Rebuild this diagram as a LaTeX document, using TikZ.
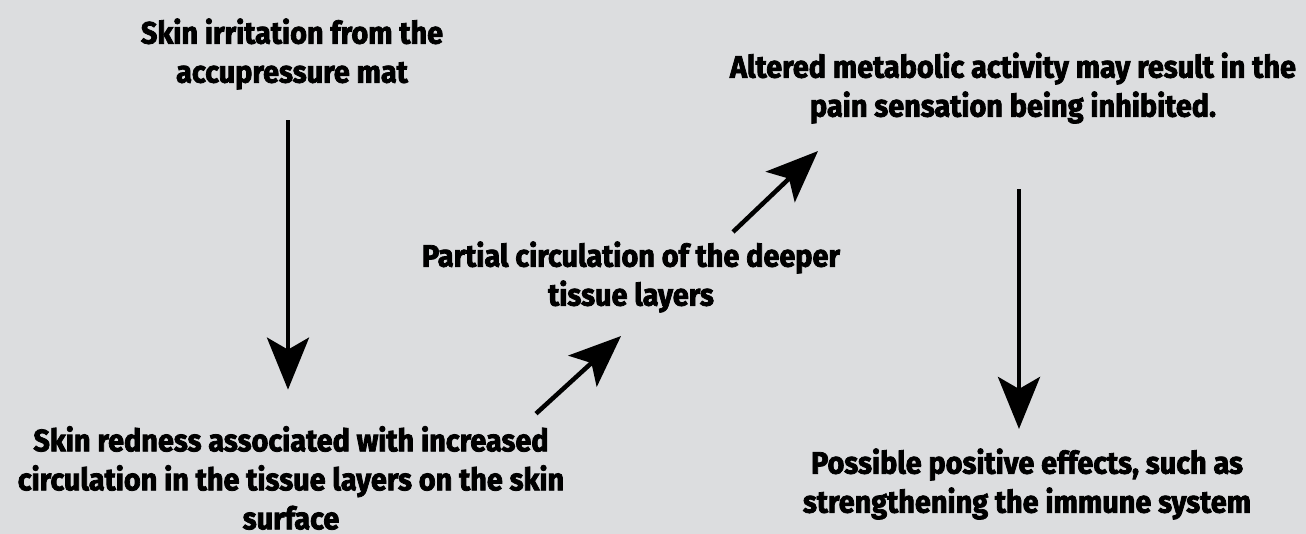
\documentclass[tikz,border=0pt]{standalone}
\usepackage{fontspec}
\setmainfont{Fira Sans}[FakeStretch=0.93, BoldFeatures={FakeBold=2.5}]
\usetikzlibrary{arrows.meta}
\definecolor{bggrey}{RGB}{220,221,223}
\tikzset{
  stage/.style={align=center, font=\fontsize{31}{39}\selectfont\bfseries, text=black},
  flow/.style={-{Stealth[length=52pt, width=42pt, inset=12pt]}, line width=4.5pt}
}

\begin{document}
\begin{tikzpicture}[x=1pt, y=-1pt]
  \fill[bggrey] (0,0) rectangle (1306,534);
  \useasboundingbox (0,0) rectangle (1306,534);

  \node[stage] (irritation) at (292,54) {Skin irritation from the\\accupressure mat};
  \node[stage] (redness) at (291,478) {Skin redness associated with increased\\circulation in the tissue layers on the skin\\surface};
  \node[stage] (partial) at (631,277) {Partial circulation of the deeper\\tissue layers};
  \node[stage] (altered) at (1013,88) {Altered metabolic activity may result in the\\pain sensation being inhibited.};
  \node[stage] (possible) at (1027,484) {Possible positive effects, such as\\strengthening the immune system};

  \draw[flow, shorten <=27pt, shorten >=33pt] ([xshift=-4pt]irritation.south) -- ([xshift=-4pt]irritation.south |- redness.north);
  \draw[flow] ([xshift=245pt, yshift=9pt]redness.north) -- ([xshift=-10pt, yshift=-20pt]partial.south);
  \draw[flow] ([xshift=102pt, yshift=6pt]partial.north) -- ([xshift=-195pt, yshift=-24pt]altered.south);
  \draw[flow, shorten <=62pt, shorten >=16pt] ([xshift=6pt]altered.south) -- ([xshift=6pt]altered.south |- possible.north);
\end{tikzpicture}
\end{document}
